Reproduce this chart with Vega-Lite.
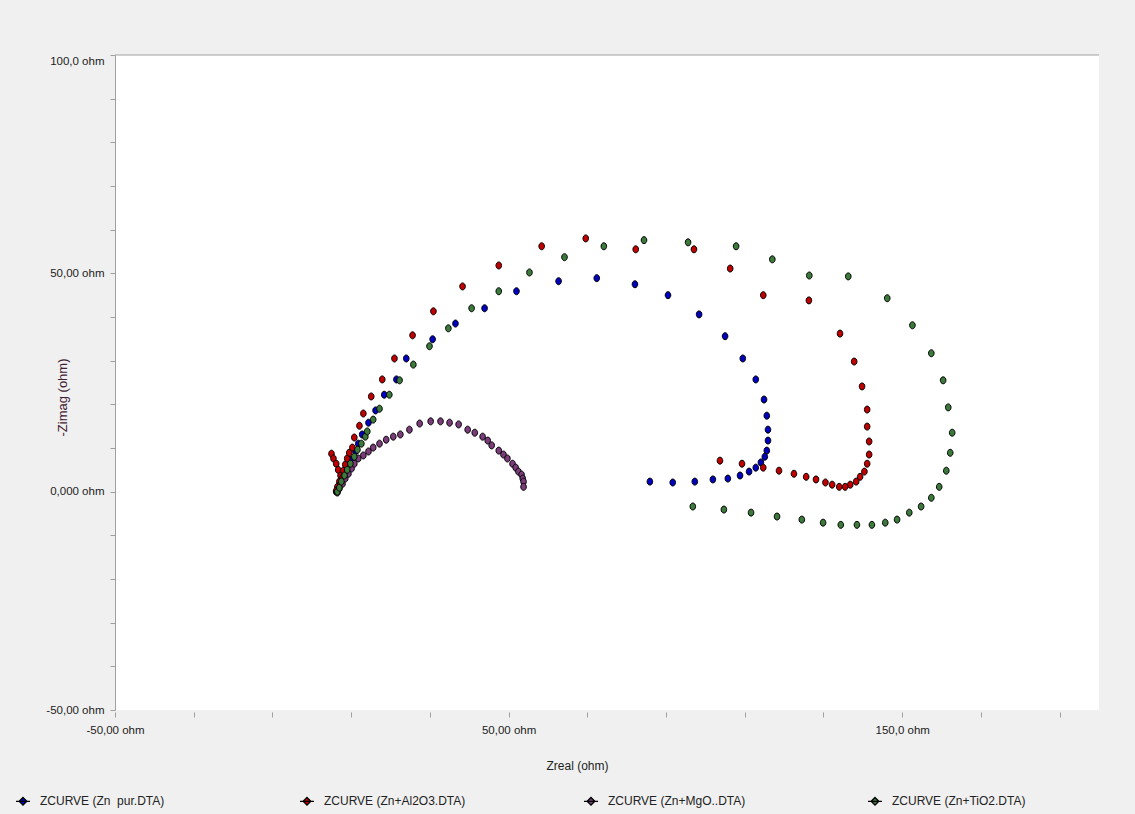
{
  "$schema": "https://vega.github.io/schema/vega-lite/v6.json",
  "width": 984,
  "height": 655,
  "autosize": {"type": "none"},
  "padding": {"left": 115, "top": 55, "right": 36, "bottom": 104},
  "background": "#f0f0f0",
  "config": {
    "view": {"fill": "white", "stroke": null},
    "font": "Liberation Sans"
  },
  "layer": [
    {
      "data": {"values": [{}]},
      "mark": {"type": "rule", "color": "#a0a0a0", "strokeWidth": 1},
      "encoding": {"y": {"datum": 100, "type": "quantitative"}}
    },
    {
      "data": {
        "values": [
          {"series": "ZCURVE (Zn\u00a0 pur.DTA)", "zreal": 6.2, "zimag": 0.0},
          {"series": "ZCURVE (Zn\u00a0 pur.DTA)", "zreal": 6.7, "zimag": 0.7},
          {"series": "ZCURVE (Zn\u00a0 pur.DTA)", "zreal": 7.3, "zimag": 1.6},
          {"series": "ZCURVE (Zn\u00a0 pur.DTA)", "zreal": 7.8, "zimag": 2.8},
          {"series": "ZCURVE (Zn\u00a0 pur.DTA)", "zreal": 8.5, "zimag": 4.1},
          {"series": "ZCURVE (Zn\u00a0 pur.DTA)", "zreal": 9.3, "zimag": 5.7},
          {"series": "ZCURVE (Zn\u00a0 pur.DTA)", "zreal": 10.1, "zimag": 7.3},
          {"series": "ZCURVE (Zn\u00a0 pur.DTA)", "zreal": 11.1, "zimag": 9.2},
          {"series": "ZCURVE (Zn\u00a0 pur.DTA)", "zreal": 11.8, "zimag": 11.0},
          {"series": "ZCURVE (Zn\u00a0 pur.DTA)", "zreal": 12.8, "zimag": 13.1},
          {"series": "ZCURVE (Zn\u00a0 pur.DTA)", "zreal": 14.4, "zimag": 15.8},
          {"series": "ZCURVE (Zn\u00a0 pur.DTA)", "zreal": 16.2, "zimag": 18.6},
          {"series": "ZCURVE (Zn\u00a0 pur.DTA)", "zreal": 18.4, "zimag": 22.2},
          {"series": "ZCURVE (Zn\u00a0 pur.DTA)", "zreal": 21.5, "zimag": 25.7},
          {"series": "ZCURVE (Zn\u00a0 pur.DTA)", "zreal": 24.0, "zimag": 30.5},
          {"series": "ZCURVE (Zn\u00a0 pur.DTA)", "zreal": 30.7, "zimag": 34.9},
          {"series": "ZCURVE (Zn\u00a0 pur.DTA)", "zreal": 36.5, "zimag": 38.5},
          {"series": "ZCURVE (Zn\u00a0 pur.DTA)", "zreal": 43.9, "zimag": 42.0},
          {"series": "ZCURVE (Zn\u00a0 pur.DTA)", "zreal": 52.0, "zimag": 45.9},
          {"series": "ZCURVE (Zn\u00a0 pur.DTA)", "zreal": 62.7, "zimag": 48.2},
          {"series": "ZCURVE (Zn\u00a0 pur.DTA)", "zreal": 72.4, "zimag": 48.9},
          {"series": "ZCURVE (Zn\u00a0 pur.DTA)", "zreal": 82.1, "zimag": 47.5},
          {"series": "ZCURVE (Zn\u00a0 pur.DTA)", "zreal": 90.5, "zimag": 45.0},
          {"series": "ZCURVE (Zn\u00a0 pur.DTA)", "zreal": 98.4, "zimag": 40.6},
          {"series": "ZCURVE (Zn\u00a0 pur.DTA)", "zreal": 105.0, "zimag": 35.6},
          {"series": "ZCURVE (Zn\u00a0 pur.DTA)", "zreal": 109.5, "zimag": 30.5},
          {"series": "ZCURVE (Zn\u00a0 pur.DTA)", "zreal": 112.8, "zimag": 25.7},
          {"series": "ZCURVE (Zn\u00a0 pur.DTA)", "zreal": 114.9, "zimag": 21.1},
          {"series": "ZCURVE (Zn\u00a0 pur.DTA)", "zreal": 115.6, "zimag": 17.4},
          {"series": "ZCURVE (Zn\u00a0 pur.DTA)", "zreal": 115.9, "zimag": 14.2},
          {"series": "ZCURVE (Zn\u00a0 pur.DTA)", "zreal": 115.9, "zimag": 11.7},
          {"series": "ZCURVE (Zn\u00a0 pur.DTA)", "zreal": 115.6, "zimag": 9.4},
          {"series": "ZCURVE (Zn\u00a0 pur.DTA)", "zreal": 115.1, "zimag": 8.0},
          {"series": "ZCURVE (Zn\u00a0 pur.DTA)", "zreal": 114.1, "zimag": 6.7},
          {"series": "ZCURVE (Zn\u00a0 pur.DTA)", "zreal": 112.8, "zimag": 5.5},
          {"series": "ZCURVE (Zn\u00a0 pur.DTA)", "zreal": 111.1, "zimag": 4.6},
          {"series": "ZCURVE (Zn\u00a0 pur.DTA)", "zreal": 108.8, "zimag": 3.7},
          {"series": "ZCURVE (Zn\u00a0 pur.DTA)", "zreal": 105.7, "zimag": 3.0},
          {"series": "ZCURVE (Zn\u00a0 pur.DTA)", "zreal": 101.9, "zimag": 2.8},
          {"series": "ZCURVE (Zn\u00a0 pur.DTA)", "zreal": 97.3, "zimag": 2.3},
          {"series": "ZCURVE (Zn\u00a0 pur.DTA)", "zreal": 91.7, "zimag": 2.1},
          {"series": "ZCURVE (Zn\u00a0 pur.DTA)", "zreal": 85.9, "zimag": 2.3},

          {"series": "ZCURVE (Zn+Al2O3.DTA)", "zreal": 5.0, "zimag": 8.7},
          {"series": "ZCURVE (Zn+Al2O3.DTA)", "zreal": 5.5, "zimag": 7.6},
          {"series": "ZCURVE (Zn+Al2O3.DTA)", "zreal": 6.2, "zimag": 6.4},
          {"series": "ZCURVE (Zn+Al2O3.DTA)", "zreal": 6.7, "zimag": 5.0},
          {"series": "ZCURVE (Zn+Al2O3.DTA)", "zreal": 7.3, "zimag": 3.7},
          {"series": "ZCURVE (Zn+Al2O3.DTA)", "zreal": 7.0, "zimag": 2.3},
          {"series": "ZCURVE (Zn+Al2O3.DTA)", "zreal": 6.5, "zimag": 1.1},
          {"series": "ZCURVE (Zn+Al2O3.DTA)", "zreal": 6.2, "zimag": 0.2},
          {"series": "ZCURVE (Zn+Al2O3.DTA)", "zreal": 7.3, "zimag": 1.8},
          {"series": "ZCURVE (Zn+Al2O3.DTA)", "zreal": 7.8, "zimag": 3.2},
          {"series": "ZCURVE (Zn+Al2O3.DTA)", "zreal": 8.0, "zimag": 4.8},
          {"series": "ZCURVE (Zn+Al2O3.DTA)", "zreal": 8.5, "zimag": 6.2},
          {"series": "ZCURVE (Zn+Al2O3.DTA)", "zreal": 9.0, "zimag": 7.6},
          {"series": "ZCURVE (Zn+Al2O3.DTA)", "zreal": 9.5, "zimag": 8.9},
          {"series": "ZCURVE (Zn+Al2O3.DTA)", "zreal": 10.3, "zimag": 10.1},
          {"series": "ZCURVE (Zn+Al2O3.DTA)", "zreal": 10.8, "zimag": 12.4},
          {"series": "ZCURVE (Zn+Al2O3.DTA)", "zreal": 12.1, "zimag": 15.1},
          {"series": "ZCURVE (Zn+Al2O3.DTA)", "zreal": 13.1, "zimag": 17.9},
          {"series": "ZCURVE (Zn+Al2O3.DTA)", "zreal": 15.1, "zimag": 21.8},
          {"series": "ZCURVE (Zn+Al2O3.DTA)", "zreal": 17.9, "zimag": 25.7},
          {"series": "ZCURVE (Zn+Al2O3.DTA)", "zreal": 21.0, "zimag": 30.5},
          {"series": "ZCURVE (Zn+Al2O3.DTA)", "zreal": 25.6, "zimag": 35.8},
          {"series": "ZCURVE (Zn+Al2O3.DTA)", "zreal": 30.9, "zimag": 41.3},
          {"series": "ZCURVE (Zn+Al2O3.DTA)", "zreal": 38.3, "zimag": 47.0},
          {"series": "ZCURVE (Zn+Al2O3.DTA)", "zreal": 47.5, "zimag": 51.8},
          {"series": "ZCURVE (Zn+Al2O3.DTA)", "zreal": 58.4, "zimag": 56.2},
          {"series": "ZCURVE (Zn+Al2O3.DTA)", "zreal": 69.6, "zimag": 58.0},
          {"series": "ZCURVE (Zn+Al2O3.DTA)", "zreal": 82.3, "zimag": 55.5},
          {"series": "ZCURVE (Zn+Al2O3.DTA)", "zreal": 97.1, "zimag": 55.5},
          {"series": "ZCURVE (Zn+Al2O3.DTA)", "zreal": 106.3, "zimag": 51.1},
          {"series": "ZCURVE (Zn+Al2O3.DTA)", "zreal": 114.7, "zimag": 45.0},
          {"series": "ZCURVE (Zn+Al2O3.DTA)", "zreal": 126.3, "zimag": 43.8},
          {"series": "ZCURVE (Zn+Al2O3.DTA)", "zreal": 134.2, "zimag": 36.2},
          {"series": "ZCURVE (Zn+Al2O3.DTA)", "zreal": 137.8, "zimag": 29.8},
          {"series": "ZCURVE (Zn+Al2O3.DTA)", "zreal": 139.8, "zimag": 24.1},
          {"series": "ZCURVE (Zn+Al2O3.DTA)", "zreal": 141.1, "zimag": 18.8},
          {"series": "ZCURVE (Zn+Al2O3.DTA)", "zreal": 141.1, "zimag": 14.9},
          {"series": "ZCURVE (Zn+Al2O3.DTA)", "zreal": 141.6, "zimag": 11.5},
          {"series": "ZCURVE (Zn+Al2O3.DTA)", "zreal": 141.6, "zimag": 8.5},
          {"series": "ZCURVE (Zn+Al2O3.DTA)", "zreal": 141.1, "zimag": 6.4},
          {"series": "ZCURVE (Zn+Al2O3.DTA)", "zreal": 140.4, "zimag": 4.6},
          {"series": "ZCURVE (Zn+Al2O3.DTA)", "zreal": 139.3, "zimag": 3.4},
          {"series": "ZCURVE (Zn+Al2O3.DTA)", "zreal": 138.3, "zimag": 2.3},
          {"series": "ZCURVE (Zn+Al2O3.DTA)", "zreal": 136.8, "zimag": 1.6},
          {"series": "ZCURVE (Zn+Al2O3.DTA)", "zreal": 135.5, "zimag": 1.1},
          {"series": "ZCURVE (Zn+Al2O3.DTA)", "zreal": 134.0, "zimag": 1.1},
          {"series": "ZCURVE (Zn+Al2O3.DTA)", "zreal": 132.2, "zimag": 1.6},
          {"series": "ZCURVE (Zn+Al2O3.DTA)", "zreal": 130.5, "zimag": 2.1},
          {"series": "ZCURVE (Zn+Al2O3.DTA)", "zreal": 128.1, "zimag": 2.8},
          {"series": "ZCURVE (Zn+Al2O3.DTA)", "zreal": 125.6, "zimag": 3.4},
          {"series": "ZCURVE (Zn+Al2O3.DTA)", "zreal": 122.5, "zimag": 4.1},
          {"series": "ZCURVE (Zn+Al2O3.DTA)", "zreal": 118.7, "zimag": 4.8},
          {"series": "ZCURVE (Zn+Al2O3.DTA)", "zreal": 114.7, "zimag": 5.5},
          {"series": "ZCURVE (Zn+Al2O3.DTA)", "zreal": 109.3, "zimag": 6.4},
          {"series": "ZCURVE (Zn+Al2O3.DTA)", "zreal": 103.7, "zimag": 7.1},

          {"series": "ZCURVE (Zn+MgO..DTA)", "zreal": 6.5, "zimag": -0.2},
          {"series": "ZCURVE (Zn+MgO..DTA)", "zreal": 7.0, "zimag": 0.7},
          {"series": "ZCURVE (Zn+MgO..DTA)", "zreal": 7.8, "zimag": 1.8},
          {"series": "ZCURVE (Zn+MgO..DTA)", "zreal": 8.5, "zimag": 3.0},
          {"series": "ZCURVE (Zn+MgO..DTA)", "zreal": 9.3, "zimag": 4.1},
          {"series": "ZCURVE (Zn+MgO..DTA)", "zreal": 10.1, "zimag": 5.3},
          {"series": "ZCURVE (Zn+MgO..DTA)", "zreal": 10.8, "zimag": 6.4},
          {"series": "ZCURVE (Zn+MgO..DTA)", "zreal": 11.8, "zimag": 7.6},
          {"series": "ZCURVE (Zn+MgO..DTA)", "zreal": 13.1, "zimag": 8.3},
          {"series": "ZCURVE (Zn+MgO..DTA)", "zreal": 14.4, "zimag": 9.2},
          {"series": "ZCURVE (Zn+MgO..DTA)", "zreal": 15.6, "zimag": 10.1},
          {"series": "ZCURVE (Zn+MgO..DTA)", "zreal": 17.2, "zimag": 11.0},
          {"series": "ZCURVE (Zn+MgO..DTA)", "zreal": 18.9, "zimag": 11.9},
          {"series": "ZCURVE (Zn+MgO..DTA)", "zreal": 20.7, "zimag": 12.6},
          {"series": "ZCURVE (Zn+MgO..DTA)", "zreal": 22.5, "zimag": 13.1},
          {"series": "ZCURVE (Zn+MgO..DTA)", "zreal": 24.8, "zimag": 14.2},
          {"series": "ZCURVE (Zn+MgO..DTA)", "zreal": 27.4, "zimag": 15.6},
          {"series": "ZCURVE (Zn+MgO..DTA)", "zreal": 30.2, "zimag": 16.1},
          {"series": "ZCURVE (Zn+MgO..DTA)", "zreal": 32.7, "zimag": 16.1},
          {"series": "ZCURVE (Zn+MgO..DTA)", "zreal": 35.0, "zimag": 15.8},
          {"series": "ZCURVE (Zn+MgO..DTA)", "zreal": 37.3, "zimag": 15.4},
          {"series": "ZCURVE (Zn+MgO..DTA)", "zreal": 39.6, "zimag": 14.2},
          {"series": "ZCURVE (Zn+MgO..DTA)", "zreal": 41.4, "zimag": 13.5},
          {"series": "ZCURVE (Zn+MgO..DTA)", "zreal": 43.4, "zimag": 12.6},
          {"series": "ZCURVE (Zn+MgO..DTA)", "zreal": 44.7, "zimag": 11.7},
          {"series": "ZCURVE (Zn+MgO..DTA)", "zreal": 45.7, "zimag": 10.6},
          {"series": "ZCURVE (Zn+MgO..DTA)", "zreal": 47.5, "zimag": 9.4},
          {"series": "ZCURVE (Zn+MgO..DTA)", "zreal": 48.7, "zimag": 8.5},
          {"series": "ZCURVE (Zn+MgO..DTA)", "zreal": 49.7, "zimag": 7.6},
          {"series": "ZCURVE (Zn+MgO..DTA)", "zreal": 51.0, "zimag": 6.4},
          {"series": "ZCURVE (Zn+MgO..DTA)", "zreal": 51.8, "zimag": 5.5},
          {"series": "ZCURVE (Zn+MgO..DTA)", "zreal": 52.5, "zimag": 4.6},
          {"series": "ZCURVE (Zn+MgO..DTA)", "zreal": 53.3, "zimag": 3.9},
          {"series": "ZCURVE (Zn+MgO..DTA)", "zreal": 53.6, "zimag": 3.0},
          {"series": "ZCURVE (Zn+MgO..DTA)", "zreal": 53.8, "zimag": 2.3},
          {"series": "ZCURVE (Zn+MgO..DTA)", "zreal": 53.8, "zimag": 1.1},

          {"series": "ZCURVE (Zn+TiO2.DTA)", "zreal": 6.5, "zimag": 0.0},
          {"series": "ZCURVE (Zn+TiO2.DTA)", "zreal": 7.0, "zimag": 0.9},
          {"series": "ZCURVE (Zn+TiO2.DTA)", "zreal": 7.5, "zimag": 2.3},
          {"series": "ZCURVE (Zn+TiO2.DTA)", "zreal": 8.3, "zimag": 3.7},
          {"series": "ZCURVE (Zn+TiO2.DTA)", "zreal": 9.0, "zimag": 5.0},
          {"series": "ZCURVE (Zn+TiO2.DTA)", "zreal": 9.8, "zimag": 6.4},
          {"series": "ZCURVE (Zn+TiO2.DTA)", "zreal": 10.8, "zimag": 8.0},
          {"series": "ZCURVE (Zn+TiO2.DTA)", "zreal": 11.6, "zimag": 9.6},
          {"series": "ZCURVE (Zn+TiO2.DTA)", "zreal": 12.6, "zimag": 11.0},
          {"series": "ZCURVE (Zn+TiO2.DTA)", "zreal": 13.6, "zimag": 12.6},
          {"series": "ZCURVE (Zn+TiO2.DTA)", "zreal": 14.1, "zimag": 13.8},
          {"series": "ZCURVE (Zn+TiO2.DTA)", "zreal": 15.6, "zimag": 16.5},
          {"series": "ZCURVE (Zn+TiO2.DTA)", "zreal": 17.2, "zimag": 19.0},
          {"series": "ZCURVE (Zn+TiO2.DTA)", "zreal": 19.7, "zimag": 22.2},
          {"series": "ZCURVE (Zn+TiO2.DTA)", "zreal": 22.3, "zimag": 25.5},
          {"series": "ZCURVE (Zn+TiO2.DTA)", "zreal": 25.8, "zimag": 29.1},
          {"series": "ZCURVE (Zn+TiO2.DTA)", "zreal": 29.9, "zimag": 33.3},
          {"series": "ZCURVE (Zn+TiO2.DTA)", "zreal": 34.7, "zimag": 37.4},
          {"series": "ZCURVE (Zn+TiO2.DTA)", "zreal": 40.6, "zimag": 42.0},
          {"series": "ZCURVE (Zn+TiO2.DTA)", "zreal": 47.5, "zimag": 45.9},
          {"series": "ZCURVE (Zn+TiO2.DTA)", "zreal": 55.3, "zimag": 50.2},
          {"series": "ZCURVE (Zn+TiO2.DTA)", "zreal": 64.2, "zimag": 53.7},
          {"series": "ZCURVE (Zn+TiO2.DTA)", "zreal": 74.2, "zimag": 56.2},
          {"series": "ZCURVE (Zn+TiO2.DTA)", "zreal": 84.4, "zimag": 57.6},
          {"series": "ZCURVE (Zn+TiO2.DTA)", "zreal": 95.6, "zimag": 57.1},
          {"series": "ZCURVE (Zn+TiO2.DTA)", "zreal": 107.8, "zimag": 56.2},
          {"series": "ZCURVE (Zn+TiO2.DTA)", "zreal": 117.0, "zimag": 53.2},
          {"series": "ZCURVE (Zn+TiO2.DTA)", "zreal": 126.4, "zimag": 49.5},
          {"series": "ZCURVE (Zn+TiO2.DTA)", "zreal": 136.3, "zimag": 49.3},
          {"series": "ZCURVE (Zn+TiO2.DTA)", "zreal": 146.2, "zimag": 44.3},
          {"series": "ZCURVE (Zn+TiO2.DTA)", "zreal": 152.6, "zimag": 38.1},
          {"series": "ZCURVE (Zn+TiO2.DTA)", "zreal": 157.4, "zimag": 31.7},
          {"series": "ZCURVE (Zn+TiO2.DTA)", "zreal": 160.4, "zimag": 25.5},
          {"series": "ZCURVE (Zn+TiO2.DTA)", "zreal": 161.7, "zimag": 19.3},
          {"series": "ZCURVE (Zn+TiO2.DTA)", "zreal": 162.7, "zimag": 13.5},
          {"series": "ZCURVE (Zn+TiO2.DTA)", "zreal": 162.2, "zimag": 8.9},
          {"series": "ZCURVE (Zn+TiO2.DTA)", "zreal": 161.2, "zimag": 4.8},
          {"series": "ZCURVE (Zn+TiO2.DTA)", "zreal": 159.4, "zimag": 1.1},
          {"series": "ZCURVE (Zn+TiO2.DTA)", "zreal": 157.4, "zimag": -1.4},
          {"series": "ZCURVE (Zn+TiO2.DTA)", "zreal": 154.8, "zimag": -3.4},
          {"series": "ZCURVE (Zn+TiO2.DTA)", "zreal": 151.8, "zimag": -4.8},
          {"series": "ZCURVE (Zn+TiO2.DTA)", "zreal": 148.7, "zimag": -6.4},
          {"series": "ZCURVE (Zn+TiO2.DTA)", "zreal": 145.7, "zimag": -7.1},
          {"series": "ZCURVE (Zn+TiO2.DTA)", "zreal": 142.3, "zimag": -7.6},
          {"series": "ZCURVE (Zn+TiO2.DTA)", "zreal": 138.5, "zimag": -7.6},
          {"series": "ZCURVE (Zn+TiO2.DTA)", "zreal": 134.4, "zimag": -7.6},
          {"series": "ZCURVE (Zn+TiO2.DTA)", "zreal": 129.9, "zimag": -7.1},
          {"series": "ZCURVE (Zn+TiO2.DTA)", "zreal": 124.5, "zimag": -6.4},
          {"series": "ZCURVE (Zn+TiO2.DTA)", "zreal": 118.2, "zimag": -5.7},
          {"series": "ZCURVE (Zn+TiO2.DTA)", "zreal": 111.6, "zimag": -4.8},
          {"series": "ZCURVE (Zn+TiO2.DTA)", "zreal": 104.7, "zimag": -4.1},
          {"series": "ZCURVE (Zn+TiO2.DTA)", "zreal": 96.8, "zimag": -3.4}
        ]
      },
      "mark": {
        "type": "point",
        "filled": true,
        "shape": "M-0.8,0A0.8,1 0 1,0 0.8,0A0.8,1 0 1,0 -0.8,0Z",
        "size": 49,
        "stroke": "black",
        "strokeWidth": 1,
        "opacity": 1
      },
      "encoding": {
        "x": {
          "field": "zreal",
          "type": "quantitative",
          "scale": {"domain": [-50, 200], "nice": false, "zero": false},
          "axis": {
            "values": [-50, -30, -10, 10, 30, 50, 70, 90, 110, 130, 150, 170, 190],
            "labelExpr": "datum.value == -50 ? '-50,00 ohm' : datum.value == 50 ? '50,00 ohm' : datum.value == 150 ? '150,0 ohm' : ''",
            "domain": false,
            "grid": false,
            "tickColor": "#a0a0a0",
            "tickSize": 5,
            "offset": 2,
            "labelPadding": 7,
            "labelFont": "Liberation Sans",
            "labelFontSize": 11.5,
            "labelColor": "#222222",
            "labelFlush": false,
            "labelOverlap": false,
            "title": "Zreal (ohm)",
            "titleFont": "Liberation Sans",
            "titleFontSize": 12,
            "titleFontWeight": "normal",
            "titleColor": "#222222",
            "titleX": 462,
            "titleY": 53,
            "titleBaseline": "middle"
          }
        },
        "y": {
          "field": "zimag",
          "type": "quantitative",
          "scale": {"domain": [-50, 100], "nice": false, "zero": false},
          "axis": {
            "values": [-50, -40, -30, -20, -10, 0, 10, 20, 30, 40, 50, 60, 70, 80, 90, 100],
            "labelExpr": "datum.value == 100 ? '100,0 ohm' : datum.value == 50 ? '50,00 ohm' : datum.value == 0 ? '0,000 ohm' : datum.value == -50 ? '-50,00 ohm' : ''",
            "domain": true,
            "domainColor": "#a0a0a0",
            "grid": false,
            "tickColor": "#a0a0a0",
            "tickSize": 5,
            "labelPadding": 6,
            "labelFont": "Liberation Sans",
            "labelFontSize": 11.5,
            "labelColor": "#222222",
            "labelFlush": false,
            "labelOverlap": false,
            "labelBaseline": {"condition": {"test": "datum.value == 100", "value": "top"}, "value": "middle"},
            "title": "-Zimag (ohm)",
            "titleFont": "Liberation Sans",
            "titleFontSize": 13,
            "titleFontWeight": "normal",
            "titleColor": "#402030",
            "titleX": -53,
            "titleY": 342,
            "titleAlign": "center",
            "titleBaseline": "middle"
          }
        },
        "color": {
          "field": "series",
          "type": "nominal",
          "scale": {
            "domain": ["ZCURVE (Zn\u00a0 pur.DTA)", "ZCURVE (Zn+Al2O3.DTA)", "ZCURVE (Zn+MgO..DTA)", "ZCURVE (Zn+TiO2.DTA)"],
            "range": ["#0000c0", "#c00000", "#7a3c7a", "#3c7a3c"]
          },
          "legend": {
            "title": null,
            "orient": "none",
            "legendX": -100,
            "legendY": 738,
            "direction": "horizontal",
            "columns": 4,
            "gridAlign": "all",
            "columnPadding": 115,
            "padding": 0,
            "symbolType": "M-1,0L1,0M0,-0.55L0.55,0L0,0.55L-0.55,0Z",
            "symbolSize": 196,
            "symbolStrokeColor": "black",
            "symbolStrokeWidth": 1.3,
            "symbolOpacity": 1,
            "labelFont": "Liberation Sans",
            "labelFontSize": 12,
            "labelColor": "#222222",
            "labelOffset": 9,
            "labelLimit": 300,
            "encode": {
              "symbols": {
                "update": {
                  "size": {"value": 196},
                  "shape": {"value": "M-1,0L1,0M0,-0.55L0.55,0L0,0.55L-0.55,0Z"},
                  "stroke": {"value": "black"},
                  "strokeWidth": {"value": 1.3}
                }
              }
            }
          }
        }
      }
    }
  ]
}
